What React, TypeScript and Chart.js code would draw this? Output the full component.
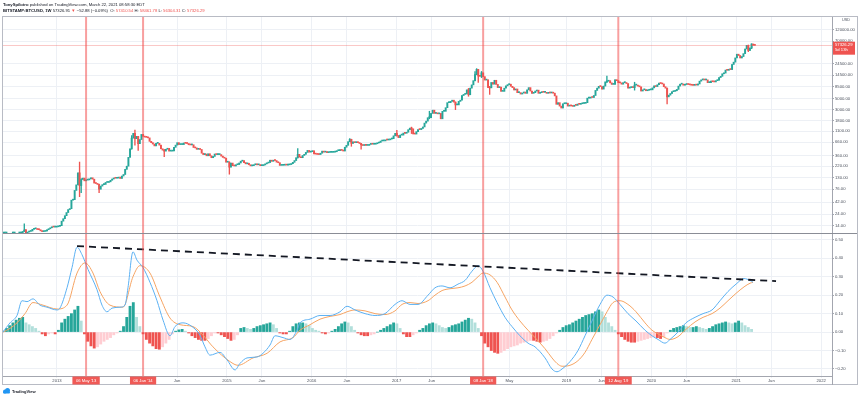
import React, { useEffect, useRef } from 'react';
import { Chart, registerables } from 'chart.js';

Chart.register(...registerables);

// ---------- weekly BTC closes (BITSTAMP:BTCUSD, 1W), first week starts 2012-05-14 ----------
const FIRST_WEEK = '2012-05-14';
const FIRST_OPEN = 4.95;
const close2012 = [5.0, 5.1, 5.15, 5.4, 5.9, 6.4, 6.6, 6.7, 7.3, 8.6, 8.9, 9.2, 10.9, 11.6, 10.1, 10.6, 10.9, 11.1, 12.0, 12.3, 12.4, 11.9, 11.8, 11.2, 10.8, 10.9, 11.1, 11.8, 12.3, 12.9, 13.5, 13.3, 13.3, 13.5];
const close2013 = [13.8, 14.2, 17.5, 19.6, 22.5, 26.0, 29.8, 31.0, 46.0, 47.0, 72.0, 93.0, 162, 90, 119, 127, 112, 116, 117, 123, 129, 121, 101, 99, 95, 76, 88, 94, 95, 104, 104, 107, 115, 122, 127, 126, 127, 133, 125, 140, 150, 190, 220, 330, 490, 800, 1000, 780, 870, 620, 750, 950];
const close2014 = [870, 840, 830, 810, 690, 650, 610, 560, 630, 630, 580, 490, 460, 440, 480, 500, 440, 440, 445, 525, 580, 650, 595, 595, 595, 640, 630, 625, 590, 585, 590, 520, 510, 478, 478, 475, 400, 375, 385, 355, 390, 355, 325, 345, 385, 375, 375, 375, 350, 330, 318, 264];
const close2015 = [265, 210, 254, 225, 222, 235, 237, 255, 277, 285, 260, 245, 252, 235, 223, 225, 235, 241, 234, 237, 225, 226, 233, 245, 254, 260, 290, 275, 290, 285, 265, 258, 228, 229, 230, 240, 231, 234, 237, 247, 263, 285, 325, 380, 333, 325, 360, 380, 415, 455, 420, 430];
const close2016 = [448, 387, 383, 378, 376, 400, 440, 420, 432, 411, 415, 416, 416, 420, 428, 449, 452, 459, 455, 442, 527, 575, 680, 760, 630, 675, 650, 655, 650, 625, 588, 570, 578, 572, 573, 600, 608, 604, 605, 618, 640, 655, 700, 705, 705, 735, 734, 740, 770, 780, 890, 998];
const close2017 = [905, 820, 920, 920, 1010, 1000, 1050, 1180, 1270, 1230, 970, 965, 1080, 1190, 1185, 1250, 1340, 1600, 1750, 2050, 2050, 2500, 2900, 2500, 2500, 2450, 2500, 1950, 2750, 2750, 3250, 4100, 4100, 4350, 4600, 4200, 3700, 3700, 4350, 4600, 5700, 6000, 6150, 7400, 5900, 8000, 9300, 11300, 15000, 19000, 14000, 13800];
const close2018 = [16200, 13600, 11600, 11800, 8200, 8100, 10400, 9600, 11500, 9500, 8200, 8400, 6900, 6900, 8000, 8900, 9400, 9600, 8700, 8200, 7350, 7700, 6500, 6500, 6100, 6400, 6700, 6300, 7400, 8200, 7000, 6300, 6500, 7000, 7300, 6300, 6500, 6700, 6600, 6600, 6300, 6550, 6400, 6400, 6350, 5600, 3800, 4100, 3500, 3200, 3900, 3900, 4000];
const close2019 = [3500, 3550, 3530, 3450, 3650, 3620, 3850, 3800, 3900, 3950, 3980, 4100, 5050, 5050, 5300, 5200, 5700, 7200, 8000, 8700, 8600, 7650, 8800, 10700, 11000, 11300, 10200, 9500, 9500, 11800, 11300, 10300, 10200, 9600, 10300, 10300, 9900, 8000, 8200, 8300, 8200, 9200, 9200, 8800, 8500, 7000, 7400, 7500, 7100, 7250, 7400, 7400];
const close2020 = [8100, 8900, 8600, 9350, 10100, 9900, 9700, 8550, 8000, 5350, 5800, 6250, 6800, 6900, 7100, 7550, 8800, 9600, 9700, 9150, 9450, 9700, 9450, 9300, 9150, 9100, 9250, 9200, 9700, 11050, 11700, 11900, 11650, 11700, 10300, 10300, 11100, 10750, 10650, 11300, 11500, 13050, 13800, 15500, 16000, 18400, 18200, 19100, 18800, 23800, 26500, 32200];
const close2021 = [38200, 36000, 32100, 34300, 39200, 48600, 57500, 45200, 50900, 61200, 57380, 57326.29];

// notable wicks (week start, low, high)
const wickDates = ['2012-08-13', '2012-08-20', '2013-04-08', '2013-04-15', '2013-07-01', '2013-11-18', '2013-12-02', '2013-12-16', '2014-04-07', '2015-01-12', '2015-11-02', '2016-06-13', '2016-06-20', '2016-08-01', '2017-01-02', '2017-03-06', '2017-05-22', '2017-09-11', '2017-11-06', '2017-12-04', '2017-12-11', '2017-12-18', '2018-01-01', '2018-02-05', '2019-06-24', '2019-10-21', '2020-03-09', '2021-02-22', '2021-03-08'];
const wickLows = [10.9, 7.5, 54, 65, 65, 480, 576, 455, 340, 152, 320, 680, 550, 480, 880, 990, 1950, 2970, 5500, 11200, 14800, 10400, 13000, 6000, 10300, 7300, 3850, 43000, 49300];
const wickHighs = [15.4, 12.0, 266, 125, 96, 900, 1163, 870, 480, 270, 495, 780, 760, 630, 1150, 1330, 2760, 4250, 7900, 17200, 19666, 19100, 17250, 8700, 13880, 10500, 8000, 58300, 61800];

// ---------- MACD pane ----------
const HIST_START = '2012-05-14';
const HIST_STEP_WEEKS = 2;
const histValues = [
  0.005, 0.02, 0.035, 0.05, 0.065, 0.075, 0.08, 0.05, 0.04, 0.03,
  0.02, 0.005, -0.01, -0.02, -0.01, -0.005, -0.01, 0.01, 0.05, 0.07,
  0.085, 0.1, 0.12, 0.14, 0.06, -0.01, -0.05, -0.075, -0.087, -0.08,
  -0.065, -0.05, -0.04, -0.03, -0.015, -0.005, 0.005, 0.03, 0.08, 0.14,
  0.16, 0.08, 0.03, -0.01, -0.04, -0.06, -0.075, -0.09, -0.093, -0.08,
  -0.06, -0.04, -0.01, 0.005, 0.012, 0.015, 0.005, -0.005, -0.02, -0.03,
  -0.04, -0.045, -0.045, -0.035, -0.02, -0.005, -0.005, -0.015, -0.025, -0.035,
  -0.045, -0.04, -0.015, 0.02, 0.025, 0.02, 0.015, 0.02, 0.03, 0.035,
  0.04, 0.045, 0.05, 0.04, 0.02, -0.005, -0.01, -0.01, 0.005, 0.03,
  0.045, 0.05, 0.05, 0.045, 0.035, 0.02, 0.01, 0.005, -0.005, -0.01,
  -0.005, 0.005, 0.015, 0.03, 0.045, 0.055, 0.05, 0.03, 0.01, -0.005,
  -0.015, -0.02, -0.02, -0.015, -0.01, 0.0, 0.01, 0.02, 0.03, 0.04,
  0.05, 0.045, 0.02, -0.01, -0.025, -0.025, -0.015, -0.005, 0.01, 0.02,
  0.035, 0.045, 0.05, 0.045, 0.035, 0.025, 0.02, 0.025, 0.035, 0.04,
  0.045, 0.055, 0.065, 0.075, 0.07, 0.05, 0.02, -0.02, -0.06, -0.08,
  -0.1, -0.11, -0.115, -0.11, -0.1, -0.09, -0.08, -0.075, -0.07, -0.06,
  -0.055, -0.05, -0.045, -0.045, -0.05, -0.055, -0.05, -0.045, -0.035, -0.02,
  -0.005, 0.01, 0.025, 0.035, 0.04, 0.05, 0.06, 0.07, 0.08, 0.09,
  0.095, 0.1, 0.11, 0.12, 0.11, 0.08, 0.05, 0.03, 0.01, -0.01,
  -0.025, -0.04, -0.05, -0.055, -0.055, -0.05, -0.045, -0.04, -0.035, -0.03,
  -0.025, -0.03, -0.035, -0.025, -0.005, 0.01, 0.02, 0.025, 0.03, 0.035,
  0.03, 0.025, 0.025, 0.03, 0.025, 0.02, 0.015, 0.02, 0.03, 0.04,
  0.045, 0.05, 0.055, 0.05, 0.045, 0.05, 0.06, 0.05, 0.035, 0.025,
  0.015,
];

const macdYears = [2012.364, 2012.446, 2012.529, 2012.588, 2012.647, 2012.717, 2012.8, 2012.882, 2013.0, 2013.035, 2013.118, 2013.177, 2013.236, 2013.294, 2013.365, 2013.471, 2013.53, 2013.589, 2013.648, 2013.742, 2013.801, 2013.836, 2013.895, 2013.942, 2014.013, 2014.095, 2014.178, 2014.249, 2014.331, 2014.39, 2014.484, 2014.59, 2014.684, 2014.743, 2014.802, 2014.92, 2015.002, 2015.097, 2015.155, 2015.238, 2015.356, 2015.426, 2015.509, 2015.568, 2015.662, 2015.744, 2015.827, 2015.862, 2015.98, 2016.098, 2016.216, 2016.333, 2016.416, 2016.51, 2016.628, 2016.746, 2016.863, 2016.981, 2017.064, 2017.158, 2017.252, 2017.37, 2017.452, 2017.535, 2017.629, 2017.723, 2017.806, 2017.888, 2017.959, 2018.018, 2018.1, 2018.183, 2018.277, 2018.359, 2018.453, 2018.548, 2018.63, 2018.748, 2018.83, 2018.889, 2018.948, 2019.042, 2019.136, 2019.219, 2019.301, 2019.396, 2019.478, 2019.549, 2019.631, 2019.725, 2019.82, 2019.926, 2020.008, 2020.079, 2020.161, 2020.22, 2020.314, 2020.408, 2020.515, 2020.609, 2020.715, 2020.809, 2020.903, 2020.998, 2021.092, 2021.163, 2021.198];
const macdValues = [0.0, 0.05, 0.09, 0.17, 0.165, 0.18, 0.146, 0.135, 0.12, 0.13, 0.24, 0.35, 0.46, 0.42, 0.34, 0.23, 0.146, 0.11, 0.13, 0.135, 0.146, 0.24, 0.435, 0.39, 0.35, 0.27, 0.17, 0.065, -0.02, 0.03, 0.05, 0.03, -0.017, -0.08, -0.125, -0.11, -0.15, -0.205, -0.17, -0.14, -0.135, -0.115, -0.07, -0.02, -0.03, -0.04, 0.01, 0.05, 0.07, 0.09, 0.09, 0.11, 0.14, 0.12, 0.1, 0.09, 0.1, 0.15, 0.17, 0.15, 0.15, 0.2, 0.24, 0.25, 0.24, 0.26, 0.28, 0.33, 0.36, 0.33, 0.24, 0.16, 0.08, 0.03, -0.02, -0.06, -0.08, -0.14, -0.2, -0.215, -0.2, -0.16, -0.1, -0.02, 0.06, 0.15, 0.2, 0.19, 0.15, 0.1, 0.06, 0.01, -0.02, -0.04, -0.06, -0.04, 0.0, 0.05, 0.08, 0.1, 0.12, 0.17, 0.22, 0.26, 0.29, 0.28, 0.27];

const signalYears = [2012.364, 2012.446, 2012.529, 2012.623, 2012.717, 2012.835, 2013.0, 2013.118, 2013.236, 2013.33, 2013.424, 2013.506, 2013.624, 2013.777, 2013.895, 2013.977, 2014.095, 2014.213, 2014.331, 2014.449, 2014.602, 2014.72, 2014.837, 2015.038, 2015.132, 2015.309, 2015.474, 2015.627, 2015.78, 2015.862, 2015.98, 2016.098, 2016.216, 2016.333, 2016.416, 2016.51, 2016.628, 2016.746, 2016.863, 2016.981, 2017.064, 2017.158, 2017.252, 2017.37, 2017.452, 2017.535, 2017.629, 2017.723, 2017.806, 2017.888, 2017.959, 2018.018, 2018.1, 2018.183, 2018.277, 2018.359, 2018.453, 2018.548, 2018.63, 2018.748, 2018.83, 2018.889, 2018.948, 2019.042, 2019.136, 2019.219, 2019.301, 2019.396, 2019.478, 2019.549, 2019.631, 2019.725, 2019.82, 2019.926, 2020.008, 2020.079, 2020.161, 2020.22, 2020.314, 2020.408, 2020.515, 2020.609, 2020.715, 2020.809, 2020.903, 2020.998, 2021.092, 2021.163, 2021.198];
const signalValues = [0.0, 0.02, 0.05, 0.1, 0.16, 0.146, 0.125, 0.146, 0.32, 0.375, 0.32, 0.22, 0.146, 0.135, 0.3, 0.36, 0.32, 0.19, 0.076, 0.04, 0.03, -0.017, -0.08, -0.16, -0.18, -0.14, -0.115, -0.053, -0.03, 0.01, 0.04, 0.07, 0.085, 0.095, 0.11, 0.12, 0.115, 0.1, 0.095, 0.115, 0.15, 0.16, 0.155, 0.17, 0.2, 0.225, 0.235, 0.24, 0.25, 0.27, 0.3, 0.32, 0.31, 0.27, 0.19, 0.12, 0.06, 0.01, -0.03, -0.09, -0.14, -0.17, -0.185, -0.18, -0.155, -0.11, -0.04, 0.04, 0.11, 0.16, 0.17, 0.15, 0.11, 0.05, 0.01, -0.01, -0.03, -0.04, -0.025, 0.015, 0.055, 0.08, 0.1, 0.13, 0.17, 0.21, 0.245, 0.265, 0.27];

const trendYears = [2013.236, 2021.469];
const trendValues = [0.466, 0.276];

// ---------- annotations & ticks ----------
const markerDates = ['2013-05-06', '2014-01-06', '2018-01-08', '2019-08-12'];
const markerLabels = ["06 May '13", "06 Jan '14", "08 Jan '18", "12 Aug '19"];
const LAST_PRICE = 57326.29;
const PRICE_LABEL = '57326.29';
const COUNTDOWN = '5d 13h';

const priceTicks = [14, 24, 42, 76, 130, 220, 360, 660, 1100, 1800, 3000, 5000, 8500, 14500, 24500, 70000, 120000];
const macdTicks = [-0.2, -0.1, 0, 0.1, 0.2, 0.3, 0.4, 0.5];
const timeTickDates = ['2013-01-01', '2014-06-01', '2015-01-01', '2015-06-01', '2016-01-01', '2016-06-01', '2017-01-01', '2017-06-01', '2018-05-01', '2019-01-01', '2019-06-01', '2020-01-01', '2020-06-01', '2021-01-01', '2021-06-01', '2022-01-01'];
const timeTickLabels = ['2013', 'Jun', '2015', 'Jun', '2016', 'Jun', '2017', 'Jun', 'May', '2019', 'Jun', '2020', 'Jun', '2021', 'Jun', '2022'];

const X_MIN = 2012.364;
const X_MAX = 2022.128;

const FONT = "'Liberation Sans', Arial, sans-serif";
const UP = '#26a69a';
const DOWN = '#ef5350';
const GRID = '#edf0f5';
const AXIS = '#a3a6af';
const TICK = '#4c525e';
const DAY = 86400000;

function toMs(iso: string): number {
  return Date.parse(iso + 'T00:00:00Z');
}
function decYear(t: number): number {
  const y = new Date(t).getUTCFullYear();
  const s = Date.UTC(y, 0, 1);
  const e = Date.UTC(y + 1, 0, 1);
  return y + (t - s) / (e - s);
}

const overlayPlugin = {
  id: 'tvOverlay',
  beforeDatasetDraw(chart: any, args: any) {
    const { ctx, chartArea, scales } = chart;
    const ys = scales[args.meta.yAxisID];
    ctx.save();
    ctx.beginPath();
    ctx.rect(chartArea.left, ys.top, chartArea.right - chartArea.left, ys.bottom - ys.top);
    ctx.clip();
  },
  afterDatasetDraw(chart: any) {
    chart.ctx.restore();
  },
  afterDatasetsDraw(chart: any) {
    const { ctx, chartArea, scales } = chart;
    const xs = scales.x;
    const ys = scales.y;
    ctx.save();
    const py = Math.round(ys.getPixelForValue(LAST_PRICE)) + 0.5;
    ctx.strokeStyle = 'rgba(239,83,80,0.32)';
    ctx.lineWidth = 1;
    ctx.beginPath();
    ctx.moveTo(chartArea.left, py);
    ctx.lineTo(chartArea.right, py);
    ctx.stroke();
    ctx.strokeStyle = 'rgba(242,80,80,0.55)';
    ctx.lineWidth = 2;
    for (const d of markerDates) {
      const px = xs.getPixelForValue(decYear(toMs(d)));
      ctx.beginPath();
      ctx.moveTo(px, chartArea.top);
      ctx.lineTo(px, chartArea.bottom);
      ctx.stroke();
    }
    ctx.restore();
  },
  afterDraw(chart: any) {
    const { ctx, chartArea, scales } = chart;
    const xs = scales.x;
    const ys = scales.y;
    const y2 = scales.y2;
    ctx.save();
    ctx.lineWidth = 1;
    // pane separator
    ctx.strokeStyle = '#8a8d96';
    const sy = Math.round(y2.top) + 0.5;
    ctx.beginPath();
    ctx.moveTo(chartArea.left, sy);
    ctx.lineTo(ys.right, sy);
    ctx.stroke();
    // outer frame
    ctx.strokeStyle = '#b8bbc4';
    ctx.strokeRect(chartArea.left - 0.5, chartArea.top - 0.5, ys.right - chartArea.left, xs.bottom - chartArea.top);
    // axis corner
    ctx.strokeStyle = AXIS;
    ctx.beginPath();
    ctx.moveTo(Math.round(ys.left) + 0.5, xs.top);
    ctx.lineTo(Math.round(ys.left) + 0.5, xs.bottom);
    ctx.stroke();
    // USD badge
    ctx.font = `3.8px ${FONT}`;
    ctx.fillStyle = TICK;
    ctx.textAlign = 'center';
    ctx.textBaseline = 'middle';
    ctx.fillText('USD', (ys.left + ys.right) / 2 + 1, chartArea.top + 3);
    // marker date boxes
    ctx.font = `4.2px ${FONT}`;
    markerDates.forEach((d, i) => {
      const px = xs.getPixelForValue(decYear(toMs(d)));
      const w = ctx.measureText(markerLabels[i]).width + 7;
      ctx.fillStyle = '#f05a56';
      ctx.fillRect(px - w / 2, xs.top + 0.5, w, xs.bottom - xs.top - 1);
      ctx.fillStyle = '#ffffff';
      ctx.fillText(markerLabels[i], px, (xs.top + xs.bottom) / 2 + 0.3);
    });
    // last price badge
    const py = ys.getPixelForValue(LAST_PRICE);
    ctx.fillStyle = '#ef5350';
    ctx.fillRect(ys.left + 1, py - 3.7, ys.width - 4, 13);
    ctx.fillStyle = '#ffffff';
    ctx.textAlign = 'left';
    ctx.fillText(PRICE_LABEL, ys.left + 3, py - 0.6);
    ctx.fillText(COUNTDOWN, ys.left + 3, py + 4.8);
    ctx.restore();
  },
};

export default function App() {
  const canvasRef = useRef<HTMLCanvasElement | null>(null);

  useEffect(() => {
    document.body.style.margin = '0';
    const canvas = canvasRef.current;
    if (!canvas) return;

    const closes = [...close2012, ...close2013, ...close2014, ...close2015, ...close2016, ...close2017, ...close2018, ...close2019, ...close2020, ...close2021];
    const t0 = toMs(FIRST_WEEK);
    const opens = closes.map((_, i) => (i === 0 ? FIRST_OPEN : closes[i - 1]));
    const bodies = closes.map((c, i) => ({ x: decYear(t0 + i * 7 * DAY), y: [opens[i], c] }));
    const bodyColors = closes.map((c, i) => (c >= opens[i] ? UP : DOWN));

    const wicks = wickDates.map((d, i) => ({ x: decYear(toMs(d)), y: [wickLows[i], wickHighs[i]] }));
    const wickColors = wickDates.map((d) => {
      const idx = Math.round((toMs(d) - t0) / (7 * DAY));
      return closes[idx] >= opens[idx] ? UP : DOWN;
    });

    const h0 = toMs(HIST_START);
    const hist = histValues.map((v, j) => ({ x: decYear(h0 + j * HIST_STEP_WEEKS * 7 * DAY), y: v }));
    const histColors = histValues.map((v, j) => {
      const prev = j > 0 ? histValues[j - 1] : 0;
      if (v >= 0) return v >= prev ? '#26a69a' : '#b2dfdb';
      return v <= prev ? '#ef5350' : '#ffcdd2';
    });

    const macd = macdYears.map((x, i) => ({ x, y: macdValues[i] }));
    const signal = signalYears.map((x, i) => ({ x, y: signalValues[i] }));
    const trend = trendYears.map((x, i) => ({ x, y: trendValues[i] }));

    const tickFont = { family: FONT, size: 4.2 };

    const chart = new Chart(canvas, {
      type: 'bar',
      data: {
        datasets: [
          { type: 'line', data: trend, yAxisID: 'y2', borderColor: '#131722', borderWidth: 1.8, borderDash: [7, 5], pointRadius: 0, order: 0 } as any,
          { type: 'line', data: macd, yAxisID: 'y2', borderColor: '#5cb1f3', borderWidth: 1, pointRadius: 0, cubicInterpolationMode: 'monotone', order: 1 } as any,
          { type: 'line', data: signal, yAxisID: 'y2', borderColor: '#f6a463', borderWidth: 1, pointRadius: 0, cubicInterpolationMode: 'monotone', order: 2 } as any,
          { type: 'bar', data: hist, yAxisID: 'y2', backgroundColor: histColors, barThickness: 2.2, grouped: false, borderWidth: 0, order: 5 } as any,
          { type: 'bar', data: bodies, yAxisID: 'y', backgroundColor: bodyColors, barThickness: 1.3, minBarLength: 1, grouped: false, borderWidth: 0, order: 3 } as any,
          { type: 'bar', data: wicks, yAxisID: 'y', backgroundColor: wickColors, barThickness: 0.7, grouped: false, borderWidth: 0, order: 4 } as any,
        ],
      },
      options: {
        responsive: false,
        animation: false,
        devicePixelRatio: 1,
        events: [],
        layout: { padding: { left: 3, top: 17, right: 2, bottom: 14 } },
        plugins: { legend: { display: false }, tooltip: { enabled: false } },
        scales: {
          x: {
            type: 'linear',
            position: 'bottom',
            min: X_MIN,
            max: X_MAX,
            bounds: 'data',
            offset: false,
            grid: { offset: false, color: GRID, tickLength: 2, tickColor: GRID, drawTicks: true },
            border: { color: AXIS, width: 1 },
            ticks: {
              autoSkip: false,
              maxRotation: 0,
              minRotation: 0,
              padding: 0.5,
              font: tickFont,
              color: TICK,
              callback: (_v: any, i: number) => timeTickLabels[i] ?? '',
            },
            afterBuildTicks: (s: any) => {
              s.ticks = timeTickDates.map((d) => ({ value: decYear(toMs(d)) }));
            },
            afterFit: (s: any) => {
              s.height = 9;
            },
          },
          y: {
            type: 'logarithmic',
            position: 'right',
            stack: 'pane',
            stackWeight: 216,
            min: 10.14,
            max: 211900,
            bounds: 'data',
            grid: { color: GRID, tickLength: 2, tickColor: AXIS },
            border: { color: AXIS, width: 1 },
            ticks: {
              autoSkip: false,
              padding: 1,
              font: tickFont,
              color: TICK,
              callback: (v: any) => Number(v).toFixed(2),
            },
            afterBuildTicks: (s: any) => {
              s.ticks = priceTicks.map((v) => ({ value: v }));
            },
            afterFit: (s: any) => {
              s.width = 26;
            },
          },
          y2: {
            type: 'linear',
            position: 'right',
            stack: 'pane',
            stackWeight: 143,
            min: -0.238,
            max: 0.537,
            bounds: 'data',
            grid: { color: GRID, tickLength: 2, tickColor: AXIS },
            border: { color: AXIS, width: 1 },
            ticks: {
              autoSkip: false,
              padding: 1,
              font: tickFont,
              color: TICK,
              callback: (v: any) => {
                const n = Number(v);
                return n < -1e-9 ? '\u2212' + Math.abs(n).toFixed(2) : Math.abs(n).toFixed(2);
              },
            },
            afterBuildTicks: (s: any) => {
              s.ticks = macdTicks.map((v) => ({ value: v }));
            },
            afterFit: (s: any) => {
              s.width = 26;
            },
          },
        },
      } as any,
      plugins: [overlayPlugin],
    });

    return () => chart.destroy();
  }, []);

  const red = { color: '#ef5350' };
  return (
    <div style={{ position: 'relative', width: 860, height: 399, overflow: 'hidden', background: '#ffffff', fontFamily: FONT }}>
      <canvas ref={canvasRef} width={860} height={399} style={{ position: 'absolute', left: 0, top: 0 }} />
      <div style={{ position: 'absolute', left: 3, top: 1.8, fontSize: 4.2, lineHeight: '6.4px', color: '#131722', whiteSpace: 'nowrap' }}>
        <div>
          <b>TonySpilotro</b> published on TradingView.com, March 22, 2021 08:58:30 EDT
        </div>
        <div>
          <b>BITSTAMP:BTCUSD, 1W</b> 57326.91 <span style={red}>{'\u25BC'}</span> {'\u2212'}52.88 ({'\u2212'}0.09%) &nbsp;O: <span style={red}>57410.54</span> H: <span style={red}>58461.78</span> L: <span style={red}>56304.31</span> C: <span style={red}>57326.29</span>
        </div>
      </div>
      <div style={{ position: 'absolute', left: 2, top: 388, display: 'flex', alignItems: 'center', fontSize: 4, fontWeight: 700, color: '#131722', whiteSpace: 'nowrap' }}>
        <svg width="9" height="6" viewBox="0 0 18 12" style={{ marginRight: 1 }}>
          <circle cx="6" cy="7" r="4" fill="#2196f3" />
          <circle cx="11" cy="5" r="5" fill="#2196f3" />
          <rect x="2" y="7" width="14" height="4" rx="2" fill="#2196f3" />
        </svg>
        <span>TradingView</span>
      </div>
    </div>
  );
}
